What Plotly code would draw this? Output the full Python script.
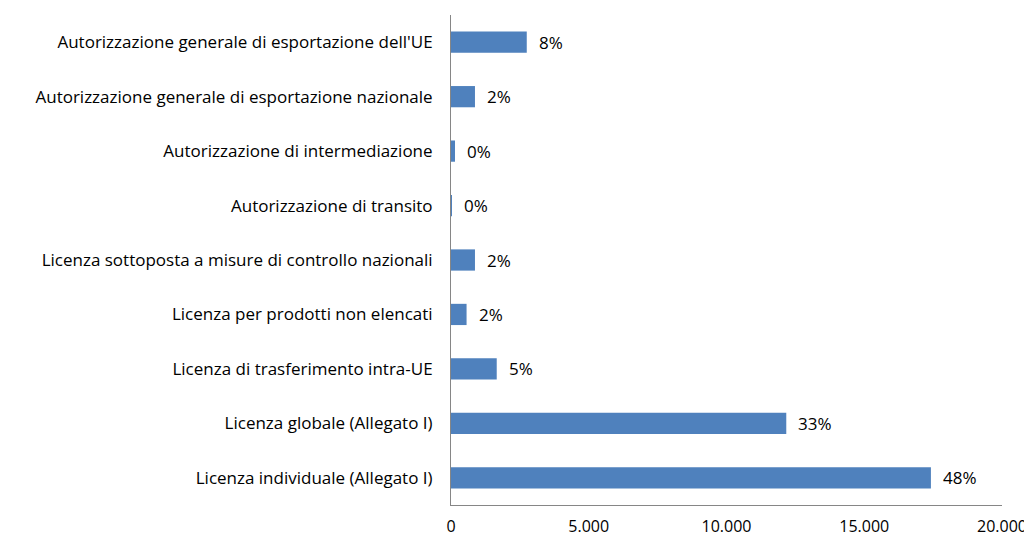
import plotly.graph_objects as go

categories = [
    "Autorizzazione generale di esportazione dell'UE",
    "Autorizzazione generale di esportazione nazionale",
    "Autorizzazione di intermediazione",
    "Autorizzazione di transito",
    "Licenza sottoposta a misure di controllo nazionali",
    "Licenza per prodotti non elencati",
    "Licenza di trasferimento intra-UE",
    "Licenza globale (Allegato I)",
    "Licenza individuale (Allegato I)",
]
counts = [2750, 870, 145, 25, 870, 565, 1660, 12170, 17420]
x_ticks = [0, 5000, 10000, 15000, 20000]

total = sum(counts)
pct_labels = [f"{round(v / total * 100):.0f}%" for v in counts]

FONT = "Open Sans, Calibri, Carlito, sans-serif"
FSIZE = 17

fig = go.Figure()
fig.add_trace(
    go.Bar(
        x=counts,
        y=categories,
        orientation="h",
        marker=dict(color="#4F81BD", line=dict(width=0)),
        width=0.39,
        hoverinfo="x+y",
    )
)

# percentage labels just right of each bar end
for cat, v, lab in zip(categories, counts, pct_labels):
    fig.add_annotation(
        x=v,
        y=cat,
        text=lab,
        showarrow=False,
        xanchor="left",
        xshift=10,
        font=dict(family=FONT, size=FSIZE, color="#000000"),
    )

# the page body has an 8px default margin, so the figure is sized/offset for it
fig.update_layout(
    width=1024,
    height=532,
    paper_bgcolor="white",
    plot_bgcolor="white",
    separators=",.",
    showlegend=False,
    margin=dict(l=443, r=30, t=7, b=35),
    font=dict(family=FONT, size=FSIZE, color="#000000"),
    xaxis=dict(
        range=[0, 20000],
        tickvals=x_ticks,
        tickformat=",d",
        showgrid=False,
        zeroline=False,
        showline=True,
        linecolor="#868686",
        linewidth=1,
        ticks="",
        ticklabelstandoff=7,
        ticklabeloverflow="allow",
        tickfont=dict(size=16),
        automargin=False,
    ),
    yaxis=dict(
        autorange="reversed",
        showgrid=False,
        zeroline=False,
        showline=True,
        linecolor="#868686",
        linewidth=1,
        ticks="",
        ticklabelstandoff=14,
        automargin=False,
    ),
)

fig.write_html("out.html")
